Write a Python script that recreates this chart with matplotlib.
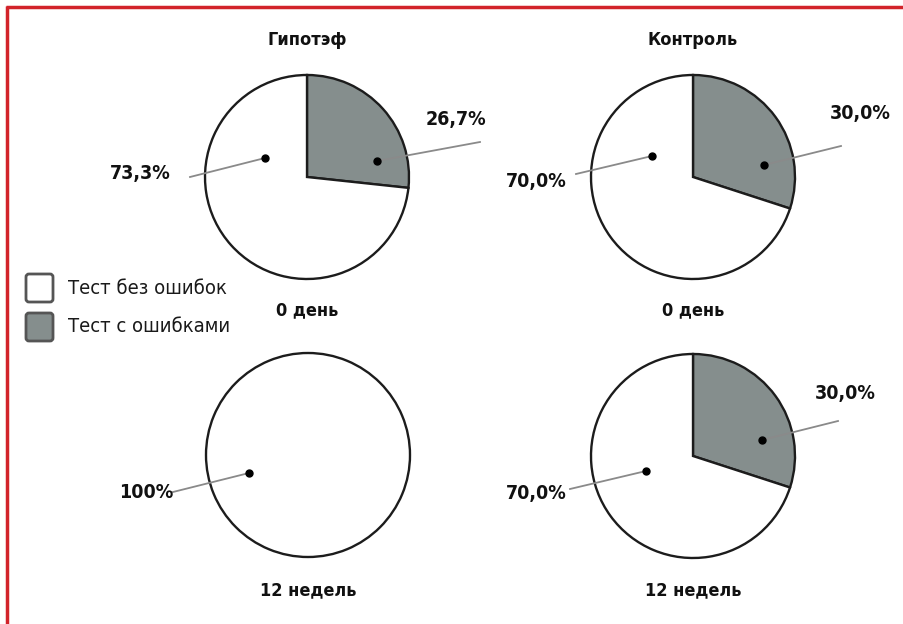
import matplotlib

matplotlib.use("Agg")

import matplotlib.pyplot as plt
from matplotlib.lines import Line2D
from matplotlib.patches import FancyBboxPatch


W, H = 904, 624

groups = ["Гипотэф", "Контроль"]
periods = ["0 день", "12 недель"]
categories = ["Тест с ошибками", "Тест без ошибок"]
legend_order = ["Тест без ошибок", "Тест с ошибками"]

# share of tests, %  (rows: periods, cols: groups)
with_errors = [[26.7, 30.0], [0.0, 30.0]]
without_errors = [[73.3, 70.0], [100.0, 70.0]]

GRAY = "#858e8d"
WHITE = "#ffffff"
EDGE = "#1c1c1c"
RED = "#d2232a"
COLORS = {"Тест с ошибками": GRAY, "Тест без ошибок": WHITE}

BOLD = dict(family=["DejaVu Sans"], weight="bold", stretch="condensed")
REG = dict(family=["DejaVu Sans"], stretch="condensed")

# layout in pixels (x right, y down)
CENTERS = [[(307, 177), (693, 177)], [(308, 455), (693, 456)]]
RADIUS = 102
TITLE_Y = 40
PERIOD_Y = [310, 590]

# callout geometry per slice: dot, line end, label centre (offsets from pie centre)
CALLOUTS = {
    (0, 0, "Тест с ошибками"): ((70, -16), (173, -35), (149, -57)),
    (0, 0, "Тест без ошибок"): ((-42, -19), (-117, 0), (-167, -4)),
    (0, 1, "Тест с ошибками"): ((71, -12), (148, -31), (167, -64)),
    (0, 1, "Тест без ошибок"): ((-41, -21), (-117, -3), (-157, 5)),
    (1, 0, "Тест без ошибок"): ((-59, 18), (-135, 37), (-162, 38)),
    (1, 1, "Тест с ошибками"): ((69, -16), (145, -35), (152, -62)),
    (1, 1, "Тест без ошибок"): ((-47, 15), (-123, 33), (-157, 37)),
}


def fmt(v):
    if v == 100:
        return "100%"
    return f"{v:.1f}".replace(".", ",") + "%"


def P(x, y):
    # pixel (y down) -> data (y up)
    return x, H - y


fig = plt.figure(figsize=(W / 100, H / 100), dpi=100)
ax = fig.add_axes([0, 0, 1, 1])

for r, period in enumerate(periods):
    for c, group in enumerate(groups):
        cx, cy = CENTERS[r][c]
        vals = [with_errors[r][c], without_errors[r][c]]
        keep = [(v, cat) for v, cat in zip(vals, categories) if v > 0]
        ax.pie(
            [v for v, _ in keep],
            colors=[COLORS[cat] for _, cat in keep],
            startangle=90,
            counterclock=False,
            center=P(cx, cy),
            radius=RADIUS,
            wedgeprops=dict(edgecolor=EDGE, linewidth=1.7),
        )
        for v, cat in keep:
            dot, end, lab = CALLOUTS[(r, c, cat)]
            ax.plot(
                [cx + dot[0], cx + end[0]],
                [H - (cy + dot[1]), H - (cy + end[1])],
                color="#8a8a8a", lw=1.3, zorder=3,
            )
            ax.plot(cx + dot[0], H - (cy + dot[1]), "o", color="black", ms=5, zorder=4)
            ax.text(cx + lab[0], H - (cy + lab[1]), fmt(v), ha="center", va="center",
                    fontsize=14, color="#111111", **BOLD)
        ax.text(*P(cx, PERIOD_Y[r]), period, ha="center", va="center",
                fontsize=13, color="#111111", **BOLD)

for c, group in enumerate(groups):
    ax.text(*P(CENTERS[0][c][0], TITLE_Y), group, ha="center", va="center",
            fontsize=13, color="#111111", **BOLD)

# legend
for i, cat in enumerate(legend_order):
    y0 = 273 + i * 39
    ax.add_patch(FancyBboxPatch(P(26, y0 + 29), 27, 28, boxstyle="round,pad=0,rounding_size=3",
                                facecolor=COLORS[cat], edgecolor="#555555", linewidth=2))
    ax.text(*P(68, y0 + 15), cat, ha="left", va="center", fontsize=14.5, color="#1a1a1a", **REG)

ax.set_xlim(0, W)
ax.set_ylim(0, H)
ax.set_aspect("auto")
ax.axis("off")

# red frame
fig.add_artist(Line2D([6 / W, 1], [1 - 7 / H, 1 - 7 / H], color=RED, lw=2.5,
                      solid_capstyle="butt"))
fig.add_artist(Line2D([7 / W, 7 / W], [0, 1 - 6 / H], color=RED, lw=2.5,
                      solid_capstyle="butt"))

fig.savefig("out.png", dpi=100, facecolor="white")
